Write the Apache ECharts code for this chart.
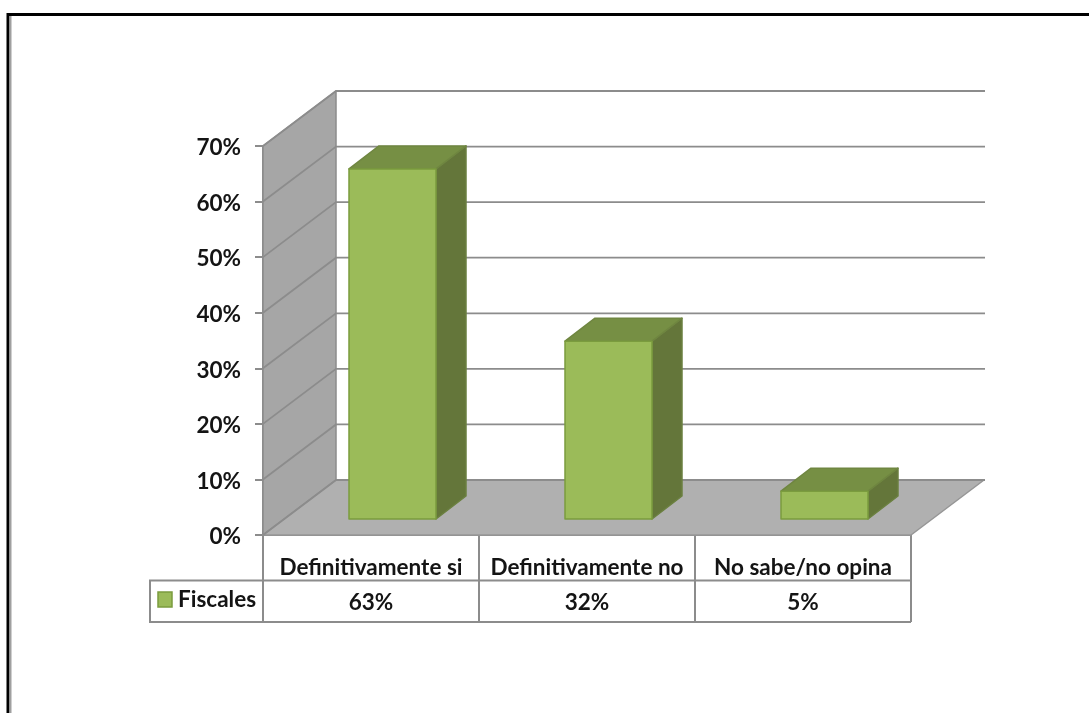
<!DOCTYPE html>
<html>
<head>
<meta charset="utf-8">
<title>Fiscales</title>
<script src="https://cdn.jsdelivr.net/npm/echarts@6/dist/echarts.min.js"></script>
<style>
  html, body { margin: 0; padding: 0; background: #fff; overflow: hidden; }
  #chart { width: 1089px; height: 713px; filter: blur(0.4px); }
</style>
</head>
<body>
<div id="chart"></div>
<script>
  var categories = ['Definitivamente si', 'Definitivamente no', 'No sabe/no opina'];
  var fiscales = [63, 32, 5];
  var seriesName = 'Fiscales';
  var yTicks = [0, 10, 20, 30, 40, 50, 60, 70];

  var textColor = '#141414';
  var lineColor = '#8c8c8c';
  var font = 'Lato';
  var fontSize = 22.5;

  // depth of the fake 3d box, in pixels
  var wallDx = 73, wallDy = -55;
  var barDx = 30, barDy = -23;
  var barInsetX = 21.5, barInsetY = -16;
  var barWidth = 87;

  function poly(points, fill, stroke, z) {
    return {
      type: 'polygon',
      z2: z || 0,
      shape: {points: points},
      style: {fill: fill, stroke: stroke || fill, lineWidth: 1.5, lineJoin: 'round'}
    };
  }

  // side wall, floor and the gridlines
  function renderWalls(params, api) {
    var band = api.size([1, 0])[0];
    var n = categories.length;
    var bottom = api.coord([0, 0]);
    var top = api.coord([0, yTicks[yTicks.length - 1]]);
    var x0 = bottom[0] - band / 2, x1 = x0 + band * n;
    var y0 = bottom[1], y1 = top[1];
    var children = [
      poly([[x0, y1], [x0 + wallDx, y1 + wallDy], [x0 + wallDx, y0 + wallDy], [x0, y0]], '#a6a6a6', '#8c8c8c'),
      poly([[x0, y0], [x1, y0], [x1 + wallDx, y0 + wallDy], [x0 + wallDx, y0 + wallDy]], '#b0b0b0', '#969696')
    ];
    yTicks.forEach(function (t) {
      var y = api.coord([0, t])[1];
      children.push({
        type: 'polyline',
        shape: {points: [[x0, y], [x0 + wallDx, y + wallDy], [x1 + wallDx + 1, y + wallDy]]},
        style: {fill: null, stroke: lineColor, lineWidth: 1.8}
      });
    });
    return {type: 'group', children: children};
  }

  function renderBar(params, api) {
    var cat = api.value(0);
    var base = api.coord([cat, 0]);
    var head = api.coord([cat, api.value(1)]);
    var xl = base[0] + barInsetX - barWidth / 2, xr = xl + barWidth;
    var yb = base[1] + barInsetY, yt = head[1] + barInsetY;
    return {
      type: 'group',
      children: [
        poly([[xr, yt], [xr + barDx, yt + barDy], [xr + barDx, yb + barDy], [xr, yb]], '#64763a', '#6b8040'),
        poly([[xl, yt], [xl + barDx, yt + barDy], [xr + barDx, yt + barDy], [xr, yt]], '#768f44', '#6f8640'),
        poly([[xl, yt], [xr, yt], [xr, yb], [xl, yb]], '#9bbb59', '#7b9c3e')
      ]
    };
  }

  var option = {
    backgroundColor: '#ffffff',
    animation: false,
    grid: {left: 263, right: 178, top: 146, bottom: 178, containLabel: false},
    xAxis: [
      {
        type: 'category',
        data: categories,
        position: 'bottom',
        axisLine: {lineStyle: {color: lineColor, width: 2}},
        axisTick: {show: true, length: 87, lineStyle: {color: lineColor, width: 2}},
        axisLabel: {
          interval: 0, margin: 21, color: textColor,
          fontFamily: font, fontSize: fontSize, fontWeight: 'bold'
        }
      },
      {
        type: 'category',
        data: fiscales.map(function (v) { return v + '%'; }),
        position: 'bottom',
        offset: 0,
        axisLine: {show: false},
        axisTick: {show: false},
        axisLabel: {
          interval: 0, margin: 56, color: textColor,
          fontFamily: font, fontSize: fontSize, fontWeight: 'bold'
        }
      }
    ],
    yAxis: {
      type: 'value',
      min: 0,
      max: 70,
      interval: 10,
      axisLine: {show: true, lineStyle: {color: lineColor, width: 2}},
      axisTick: {show: true, length: 8, lineStyle: {color: lineColor, width: 2}},
      splitLine: {show: false},
      axisLabel: {
        margin: 22, color: textColor, formatter: '{value}%',
        verticalAlign: 'top', lineHeight: 4,
        fontFamily: font, fontSize: fontSize, fontWeight: 'bold'
      }
    },
    graphic: [
      {type: 'polyline', shape: {points: [[263, 580.5], [150, 580.5], [150, 622], [911, 622]]},
        style: {fill: null, stroke: lineColor, lineWidth: 2}},
      {type: 'line', shape: {x1: 263, y1: 580.5, x2: 911, y2: 580.5},
        style: {stroke: lineColor, lineWidth: 2}},
      {type: 'rect', shape: {x: 158, y: 592, width: 14, height: 15},
        style: {fill: '#9bbb59', stroke: '#7b9c3e', lineWidth: 1.5}},
      {type: 'text', x: 178, y: 600,
        style: {text: seriesName, fill: textColor, font: 'bold ' + fontSize + 'px ' + font, verticalAlign: 'middle'}},
      // frame of the pasted picture, only top and left show
      {type: 'line', shape: {x1: 8, y1: 14.5, x2: 1089, y2: 14.5}, style: {stroke: '#000', lineWidth: 3}},
      {type: 'line', shape: {x1: 8, y1: 13, x2: 8, y2: 713}, style: {stroke: '#000', lineWidth: 3}},
      {type: 'line', shape: {x1: 10.5, y1: 16, x2: 10.5, y2: 713}, style: {stroke: '#a0a0a0', lineWidth: 2}}
    ],
    series: [
      {
        type: 'custom',
        name: 'walls',
        silent: true,
        z: 1,
        data: [[0, 0]],
        renderItem: renderWalls
      },
      {
        type: 'custom',
        name: seriesName,
        z: 2,
        encode: {x: 0, y: 1},
        data: fiscales.map(function (v, i) { return [i, v]; }),
        renderItem: renderBar
      }
    ]
  };

  var chart = echarts.init(document.getElementById('chart'), null, {renderer: 'canvas'});
  chart.setOption(option);
</script>
</body>
</html>
